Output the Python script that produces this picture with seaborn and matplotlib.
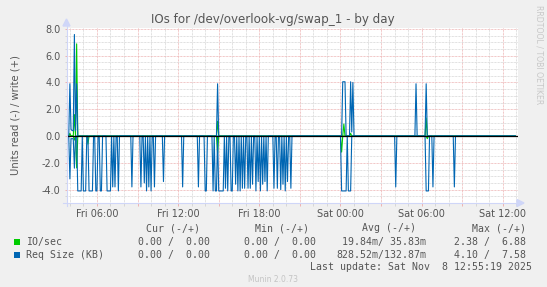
import numpy as np
import pandas as pd
import matplotlib
matplotlib.use("Agg")
import matplotlib.pyplot as plt
import seaborn as sns
from matplotlib.patches import Polygon, Rectangle

W, H = 547, 287

# ---- data: 5-minute samples, slot 0 = Fri 03:45 ----
START_HOUR = 3.75          # hours since Fri 00:00
N_SLOTS = 399              # up to Sat 12:55 (last update)

# IO/sec
io_write_slots = [3, 7, 9, 134, 246, 252, 319]
io_write_vals = [0.2, 1.6, 6.88, 1.1, 0.9, 0.2, 1.35]
io_read_slots = [7, 9, 19, 134, 244, 320]
io_read_vals = [0.3, 2.38, 0.6, 1.3, 1.2, 0.2]

# Req Size (KB)
req_write_slots = [3, 4, 5, 6, 7, 8, 9, 134, 245, 246, 247, 252, 253, 254, 310, 319]
req_write_vals = [3.9, 0.5, 0.4, 0.4, 7.58, 0.4, 3.9, 3.9, 4.05, 4.05, 4.05,
                  4.05, 0.3, 4.0, 3.9, 3.9]
req_read_slots = [3, 4, 5, 6, 7,
                  10, 11, 12, 13, 15, 16, 17, 20, 21, 22, 23, 26, 27, 30, 31,
                  36, 37, 38, 39, 41, 43, 46, 58, 66, 69, 71, 73, 75, 78, 86,
                  103, 117, 123, 124, 130, 132, 133, 135, 136, 137, 138, 139,
                  141, 143, 146, 147, 150, 152, 154, 156, 158, 161, 163, 165,
                  168, 170, 172, 174, 176, 178,
                  184, 187, 190, 192, 194, 196, 199,
                  244, 245, 246, 247, 248, 250, 251, 252,
                  292, 319, 320, 321, 325, 344]
req_read_vals = [3.2, 0.2, 0.2, 0.2, 2.4,
                 4.1, 4.1, 4.1, 4.1, 4.1, 4.1, 4.1, 4.1, 4.1, 4.1, 4.1, 4.1, 4.1, 4.1, 4.1,
                 4.1, 4.1, 4.1, 4.1, 3.8, 3.8, 4.1, 3.8, 3.8, 3.5, 4.1, 3.8, 4.1, 3.8, 3.4,
                 3.8, 3.8, 4.1, 4.1, 4.1, 4.1, 4.1, 4.1, 4.1, 4.1, 4.1, 4.1,
                 3.9, 4.1, 4.1, 4.1, 3.6, 4.1, 4.1, 3.9, 3.9, 3.9, 3.9, 3.6,
                 4.1, 3.4, 4.1, 3.6, 3.4, 4.1,
                 3.9, 3.9, 4.0, 3.6, 4.1, 3.4, 3.9,
                 4.1, 4.1, 4.1, 4.1, 4.1, 4.1, 4.1, 4.1,
                 3.8, 4.1, 4.1, 4.1, 3.8, 3.8]

x_tick_hours = [6, 12, 18, 24, 30, 36]
x_tick_labels = ["Fri 06:00", "Fri 12:00", "Fri 18:00", "Sat 00:00", "Sat 06:00", "Sat 12:00"]
y_ticks = [-4, -2, 0, 2, 4, 6, 8]

series_names = ["IO/sec", "Req Size (KB)"]
series_colors = ["#00CC00", "#0066B3"]
legend_cur = ["0.00 /  0.00", "0.00 /  0.00"]
legend_min = ["0.00 /  0.00", "0.00 /  0.00"]
legend_avg = ["19.84m/ 35.83m", "828.52m/132.87m"]
legend_max = ["2.38 /  6.88", "4.10 /  7.58"]
last_update = "Last update: Sat Nov  8 12:55:19 2025"


def build(slots, vals):
    arr = np.zeros(N_SLOTS)
    arr[np.array(slots)] = np.array(vals)
    return arr


hours = START_HOUR + np.arange(N_SLOTS) / 12.0
df = pd.DataFrame({
    "hour": hours,
    "io_w": build(io_write_slots, io_write_vals),
    "io_r": -build(io_read_slots, io_read_vals),
    "rq_w": build(req_write_slots, req_write_vals),
    "rq_r": -build(req_read_slots, req_read_vals),
})

# ---- figure ----
fig = plt.figure(figsize=(W / 100, H / 100), dpi=100, facecolor="#F0F0F0")
px_l, px_r, px_t, px_b = 66.5, 518.0, 27.5, 203.0
ax = fig.add_axes([px_l / W, 1 - px_b / H, (px_r - px_l) / W, (px_b - px_t) / H])
ax.set_facecolor("white")

FONT_C = "#555555"
GRID_C = "#D6D6D6"
MGRID_C = "#EDB4B4"
AXIS_C = "#CFD6F8"
dot = (0, (0.72, 0.72))

for col, color in [("io_r", series_colors[0]), ("io_w", series_colors[0]),
                   ("rq_r", series_colors[1]), ("rq_w", series_colors[1])]:
    sns.lineplot(data=df, x="hour", y=col, ax=ax, color=color, lw=0.8,
                 estimator=None, zorder=3)

ax.axhline(0, color="black", lw=0.9, zorder=5)

ax.set_xlim(START_HOUR, START_HOUR + (px_r - px_l) / 13.53)
ax.set_ylim(-5.0, 8.1)

major_x = list(range(6, 37, 3))
minor_x = [h for h in range(4, 38) if h % 3 != 0]
ax.set_xticks(major_x)
ax.set_xticklabels([x_tick_labels[x_tick_hours.index(h)] if h in x_tick_hours else ""
                    for h in major_x])
ax.set_xticks(minor_x, minor=True)
ax.set_yticks(y_ticks)
ax.set_yticklabels([f"{v:.1f}" for v in y_ticks])
ax.set_yticks([v / 2 for v in range(-9, 16) if v % 4 != 0], minor=True)

ax.grid(which="minor", color=GRID_C, linestyle=dot, lw=0.72, zorder=1)
ax.grid(which="major", color=MGRID_C, linestyle=dot, lw=0.72, zorder=1)
ax.set_axisbelow(True)

ax.tick_params(which="major", length=1.8, width=0.72, color=MGRID_C, direction="out",
               labelsize=7, labelcolor=FONT_C, pad=2.6)
ax.tick_params(which="minor", length=1.8, width=0.72, color=GRID_C, direction="out")
ax.tick_params(axis="x", which="major", pad=2.8)
for sp in ax.spines.values():
    sp.set_visible(False)
ax.set_xlabel("")
ax.set_ylabel("Units read (-) / write (+)", fontsize=7.2, color=FONT_C, labelpad=15)

# axes lines + arrows
def fx(p):
    return p / W

def fy(p):
    return 1 - p / H

fig.add_artist(plt.Line2D([fx(px_l), fx(px_l)], [fy(206), fy(24)], color=AXIS_C, lw=0.8))
fig.add_artist(plt.Line2D([fx(63), fx(518)], [fy(px_b), fy(px_b)], color=AXIS_C, lw=0.8))
fig.add_artist(Polygon([[fx(px_l - 3.5), fy(26)], [fx(px_l + 3.5), fy(26)], [fx(px_l), fy(19)]],
                       closed=True, color=AXIS_C, transform=fig.transFigure))
fig.add_artist(Polygon([[fx(517), fy(px_b - 3.5)], [fx(517), fy(px_b + 3.5)], [fx(524), fy(px_b)]],
                       closed=True, color=AXIS_C, transform=fig.transFigure))

# title
fig.text(fx(273), fy(23.5), "IOs for /dev/overlook-vg/swap_1 - by day", ha="center",
         va="baseline", fontsize=8.6, color=FONT_C, family="DejaVu Sans")
fig.text(fx(538.5), fy(5), "RRDTOOL / TOBI OETIKER", rotation=270, ha="center", va="top",
         fontsize=5.6, color="#C8C8C8", family="DejaVu Sans")

# legend
mono = dict(family="DejaVu Sans Mono", fontsize=7.1, color=FONT_C, va="center")
for txt, xr in [("Cur (-/+)", 200.5), ("Min (-/+)", 309), ("Avg (-/+)", 416.5), ("Max (-/+)", 525.5)]:
    fig.text(fx(xr), fy(228.3), txt, ha="right", **mono)
rows_y = [242.3, 254.8]
for i, name in enumerate(series_names):
    y = rows_y[i]
    fig.add_artist(Rectangle((fx(13.5), fy(y + 3)), 6 / W, 6 / H, transform=fig.transFigure,
                             facecolor=series_colors[i], edgecolor="none"))
    fig.text(fx(26), fy(y), name, ha="left", **mono)
    fig.text(fx(209.5), fy(y), legend_cur[i], ha="right", **mono)
    fig.text(fx(315.5), fy(y), legend_min[i], ha="right", **mono)
    fig.text(fx(426.5), fy(y), legend_avg[i], ha="right", **mono)
    fig.text(fx(525.5), fy(y), legend_max[i], ha="right", **mono)
fig.text(fx(532), fy(266.7), last_update, ha="right", **mono)
fig.text(fx(272.5), fy(280), "Munin 2.0.73", ha="center", va="center", fontsize=5.5,
         color="#C4C4C4", family="DejaVu Sans")

fig.savefig("out.png", dpi=100, facecolor=fig.get_facecolor())
